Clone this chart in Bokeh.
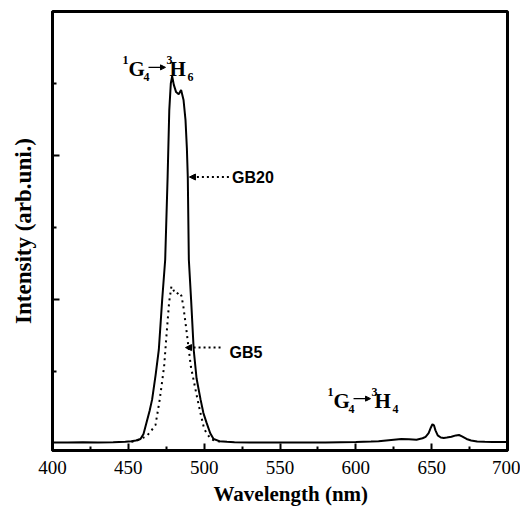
from bokeh.plotting import figure
from bokeh.models import Label, Arrow, NormalHead, FixedTicker, Range1d, CustomJSTickFormatter, Title
from bokeh.embed import file_html
from bokeh.resources import INLINE

# GB20 emission spectrum (solid line)
wl_gb20 = [400, 410, 420, 430, 440, 448, 452, 455, 458, 460, 462, 464, 465.7, 468, 470.1,
           472.3, 474.3, 475.9, 477.0, 478.0, 478.9, 480, 481.5, 483.2, 484.8, 486.4, 487.7,
           488.6, 489.2, 489.9, 491.4, 493.1, 495, 497.6, 499.5, 501.5, 504, 506.2, 510, 515,
           520, 530, 540, 550, 560, 570, 580, 590, 600, 610, 615, 620, 625, 630, 635, 640,
           644, 646, 648, 649.5, 650.5, 651.5, 652.5, 654, 656, 658, 660, 663, 666, 668, 670,
           673, 676, 680, 685, 690, 695, 700]
int_gb20 = [12, 10, 13, 12, 15, 20, 30, 40, 60, 130, 290, 450, 610, 950, 1300,
            1990, 2550, 3700, 4630, 5000, 5100, 4980, 4880, 4850, 4910, 4770, 4490,
            4100, 3700, 2550, 1990, 1300, 900, 610, 420, 290, 140, 60, 30, 20,
            15, 12, 12, 10, 12, 10, 12, 15, 18, 25, 30, 40, 50, 60, 55, 50,
            70, 90, 140, 220, 265, 250, 180, 110, 80, 75, 80, 90, 110, 115, 95,
            60, 40, 25, 20, 18, 18, 18]

# GB5 emission spectrum (dotted line)
wl_gb5 = [452, 456, 460, 462, 464.6, 467.9, 470.7, 473.6, 475.3, 476.9, 478.4, 480, 481.8,
          483.5, 485, 486.3, 488.5, 491.2, 495.6, 498, 500, 502, 504.4, 508, 512]
int_gb5 = [20, 40, 80, 100, 160, 254, 607, 1070, 1540, 1960, 2180, 2120, 2070,
           2100, 2050, 1900, 1540, 1070, 610, 380, 200, 130, 60, 30, 20]

x_major = [400, 450, 500, 550, 600, 650, 700]
x_minor = [425, 475, 525, 575, 625, 675]
y_major = [2000, 4000]
y_minor = [1000, 3000, 5000]

SERIF = "Liberation Serif"
SANS = "Liberation Sans"

X0, X1, Y0, Y1 = 400, 700, -100, 6000
W, H = 520, 508
BL, BR, BT, BB = 52, 13, 11, 57
PX_Y = (Y1 - Y0) / (H - BT - BB)   # data units per pixel (y)
PX_X = (X1 - X0) / (W - BL - BR)   # data units per pixel (x)

p = figure(width=W, height=H, x_range=Range1d(X0, X1), y_range=Range1d(Y0, Y1),
           output_backend="svg", toolbar_location=None,
           min_border_left=BL, min_border_right=BR, min_border_top=BT, min_border_bottom=BB)

p.grid.visible = False
p.outline_line_color = "black"
p.outline_line_width = 3
p.background_fill_color = "white"
p.border_fill_color = "white"

p.line(wl_gb20, int_gb20, line_color="black", line_width=2)
p.line(wl_gb5, int_gb5, line_color="black", line_width=2, line_dash="2 4")

# x axis
xa = p.xaxis[0]
xa.ticker = FixedTicker(ticks=x_major, minor_ticks=x_minor)
xa.axis_line_width = 3
xa.major_tick_in = 7
xa.major_tick_out = 0
xa.minor_tick_in = 4
xa.minor_tick_out = 0
xa.major_tick_line_width = 2
xa.minor_tick_line_width = 2
xa.major_label_text_font = SERIF
xa.major_label_text_font_size = "19px"
xa.major_label_text_color = "black"
xa.major_label_standoff = 10

# x-axis title, placed below the axis, slightly right of centre as in the original
p.add_layout(Title(text="Wavelength (nm)", align="left", offset=161, standoff=6,
                   text_font=SERIF, text_font_style="bold", text_font_size="21px",
                   text_color="black"), "below")

# y axis
ya = p.yaxis[0]
ya.ticker = FixedTicker(ticks=y_major, minor_ticks=y_minor)
ya.formatter = CustomJSTickFormatter(code="return ''")
ya.axis_line_width = 3
ya.major_tick_in = 7
ya.major_tick_out = 0
ya.minor_tick_in = 4
ya.minor_tick_out = 0
ya.major_tick_line_width = 2
ya.minor_tick_line_width = 2
ya.major_label_standoff = 0
ya.axis_label = "Intensity (arb.uni.)"
ya.axis_label_text_font = SERIF
ya.axis_label_text_font_style = "bold"
ya.axis_label_text_font_size = "23px"
ya.axis_label_text_color = "black"
ya.axis_label_standoff = 17


def lab(x, y, t, size, font=SERIF, style="bold", baseline="middle", align="left"):
    p.add_layout(Label(x=x, y=y, text=t, text_font=font, text_font_style=style,
                       text_font_size=size, text_baseline=baseline, text_align=align,
                       text_color="black"))


def transition(x0, yc, upper, lower):
    # x0: left edge of the "G" (data), yc: vertical centre of capitals (data)
    up = yc + 9 * PX_Y
    dn = yc - 8 * PX_Y
    lab(x0 - 6 * PX_X, up, "1", "12px")
    lab(x0, yc, "G", "21px")
    lab(x0 + 15 * PX_X, dn, upper, "12px")
    p.add_layout(Arrow(end=NormalHead(size=5, fill_color="black", line_color="black", line_width=1),
                       x_start=x0 + 20 * PX_X, y_start=yc + 2 * PX_Y,
                       x_end=x0 + 37 * PX_X, y_end=yc + 2 * PX_Y,
                       line_color="black", line_width=1.2))
    lab(x0 + 38 * PX_X, up, "3", "12px")
    lab(x0 + 41 * PX_X, yc, "H", "21px")
    lab(x0 + 59 * PX_X, dn, lower, "12px")


transition(450.1, 5196, "4", "6")
transition(585.3, 593, "4", "4")

# series annotations
p.add_layout(Arrow(end=NormalHead(size=6, fill_color="black", line_color="black", line_width=1),
                   x_start=516.3, y_start=3700, x_end=490.3, y_end=3700,
                   line_color="black", line_width=2, line_dash="2 3"))
lab(518.4, 3700, "GB20", "16px", font=SANS)

p.add_layout(Arrow(end=NormalHead(size=6, fill_color="black", line_color="black", line_width=1),
                   x_start=510.8, y_start=1330, x_end=487.7, y_end=1330,
                   line_color="black", line_width=2, line_dash="2 3"))
lab(516.7, 1260, "GB5", "16px", font=SANS)

open("out.html", "w").write(file_html(p, INLINE))
